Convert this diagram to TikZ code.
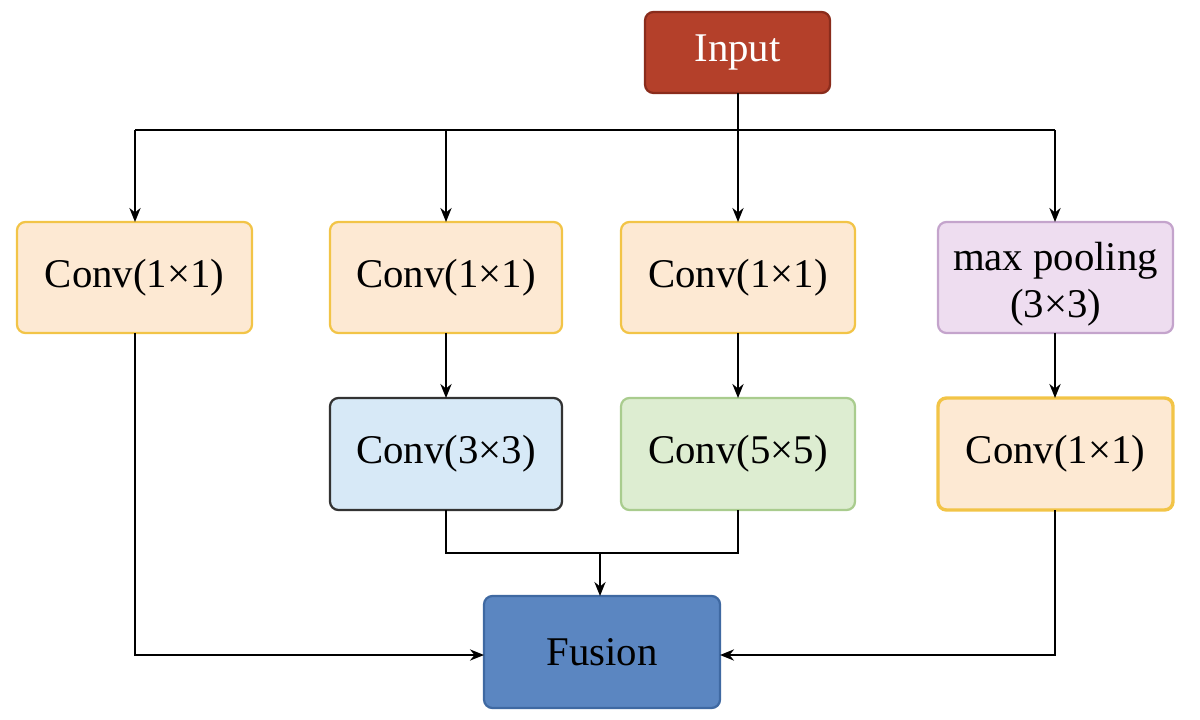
\documentclass[tikz,border=0pt]{standalone}
\usepackage{fontspec}
\setmainfont{Liberation Serif}
\usetikzlibrary{arrows.meta}
\definecolor{peach}{HTML}{FDE9D3}
\definecolor{gold}{HTML}{F2C447}
\definecolor{lav}{HTML}{EEDDF0}
\definecolor{lavb}{HTML}{C4A4CC}
\definecolor{lblue}{HTML}{D7E9F7}
\definecolor{lgreen}{HTML}{DDEDD1}
\definecolor{greenb}{HTML}{A9CC8E}
\definecolor{fus}{HTML}{5B86C1}
\definecolor{fusb}{HTML}{3F69A2}
\definecolor{inp}{HTML}{B4402A}
\definecolor{inpb}{HTML}{8A2C1C}
\begin{document}
\begin{tikzpicture}[x=0.025cm,y=-0.025cm,
  box/.style={rounded corners=6pt,line width=1.6pt,font=\fontsize{29}{33}\selectfont,align=center},
  c11/.style={box,fill=peach,draw=gold},
  arr/.style={line width=1.2pt,-{Stealth[length=10pt,width=8pt]}},
  ln/.style={line width=1.2pt}]
\useasboundingbox (0,0) rectangle (1200,720);
\newcommand{\bx}[6]{\filldraw[#6] (#2,#3) rectangle (#4,#5); \node (#1) at ({(#2+#4)/2},{(#3+#5)/2}) {};}
\draw[box,fill=inp,draw=inpb] (645,12) rectangle (830,93);
\node[font=\fontsize{29}{33}\selectfont,text=white] (in) at (737.5,52) {Input};
\draw[c11] (17,222) rectangle (252,333); \node[box] (a) at (134.5,277.5) {Conv(1×1)};
\draw[c11] (330,222) rectangle (562,333); \node[box] (b) at (446,277.5) {Conv(1×1)};
\draw[c11] (621,222) rectangle (855,333); \node[box] (c) at (738,277.5) {Conv(1×1)};
\draw[box,fill=lav,draw=lavb] (938,222) rectangle (1173,333); \node[box,text depth=0pt] (d) at (1055.5,280) {max pooling\\(3×3)};
\draw[box,fill=lblue,draw=black!80] (330,398) rectangle (562,510); \node[box] (e) at (446,454) {Conv(3×3)};
\draw[box,fill=lgreen,draw=greenb] (621,398) rectangle (855,510); \node[box] (f) at (738,454) {Conv(5×5)};
\draw[c11,line width=2.4pt] (938,398) rectangle (1173,510); \node[box] (g) at (1055.5,454) {Conv(1×1)};
\draw[box,fill=fus,draw=fusb] (484,596) rectangle (720,708); \node[box] (h) at (602,652) {Fusion};
\coordinate (t) at (738,130);
\draw[ln] (738,93) -- (t);
\draw[ln] (135,130) -- (1055,130);
\draw[arr] (135,130) -- (135,222);
\draw[arr] (446,130) -- (446,222);
\draw[arr] (738,130) -- (738,222);
\draw[arr] (1055,130) -- (1055,222);
\draw[arr] (446,333) -- (446,398);
\draw[arr] (738,333) -- (738,398);
\draw[arr] (1055,333) -- (1055,398);
\draw[ln] (446,510) -- (446,553) -- (738,553) -- (738,510);
\draw[arr] (600,553) -- (600,596);
\draw[arr] (135,333) -- (135,655) -- (484,655);
\draw[arr] (1055,510) -- (1055,655) -- (720,655);
\end{tikzpicture}
\end{document}
